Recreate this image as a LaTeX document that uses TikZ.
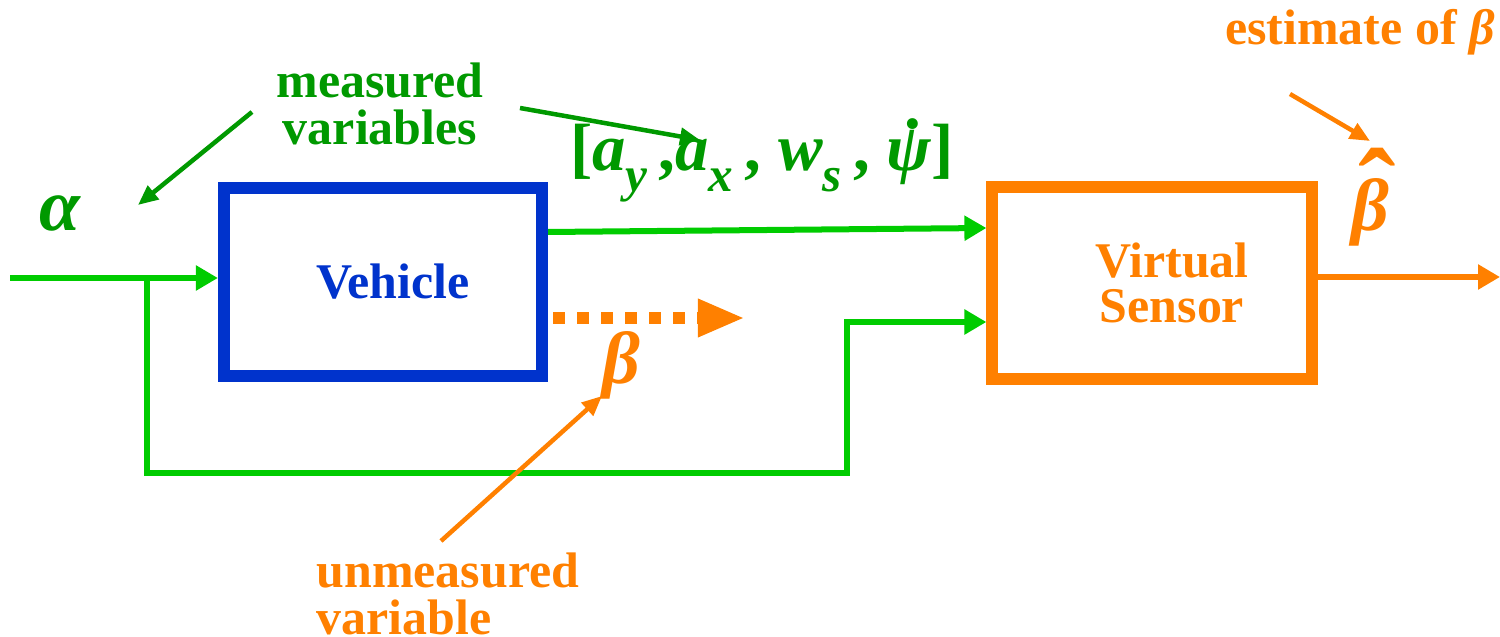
\documentclass[tikz,border=0pt]{standalone}
\usepackage{fontspec}
\setmainfont{Liberation Serif}
\usetikzlibrary{arrows.meta,positioning}

\definecolor{lineg}{RGB}{0,204,0}
\definecolor{textg}{RGB}{0,153,0}
\definecolor{vblue}{RGB}{0,51,204}
\definecolor{vorange}{RGB}{255,128,0}

\newcommand{\subv}[1]{\raisebox{-0.32em}{\fontsize{14}{14}\selectfont\textit{#1}}}
\newcommand{\dotpsi}{\ooalign{\textit{ψ}\cr\hidewidth\kern0.12em\raisebox{0.62em}{.}\hidewidth\cr}}
\newcommand{\hatbeta}{\ooalign{\textit{β}\cr\hidewidth\kern0.2em\raisebox{0.05em}{\fontsize{32}{32}\selectfont ˆ}\hidewidth\cr}}

\begin{document}
\begin{tikzpicture}[x=0.01cm, y=-0.01cm,
  block/.style={draw, line width=0.12cm, minimum width=3.18cm, minimum height=1.88cm, align=center, font=\fontsize{14.2}{12.6}\selectfont\bfseries},
  sig/.style={draw=lineg, line width=0.06cm, -{Triangle[length=0.22cm,width=0.24cm]}},
  obus/.style={draw=vorange, line width=0.06cm, -{Triangle[length=0.22cm,width=0.24cm]}},
  unmeas/.style={draw=vorange, line width=0.12cm, dash pattern=on 0.12cm off 0.12cm, -{Triangle[length=0.47cm,width=0.35cm]}},
  gpoint/.style={draw=textg, line width=0.045cm, -{Triangle[length=0.2cm,width=0.17cm]}},
  opoint/.style={draw=vorange, line width=0.045cm, -{Triangle[length=0.2cm,width=0.17cm]}},
  glabel/.style={text=textg, align=center, font=\fontsize{14.2}{13.4}\selectfont\bfseries},
  olabel/.style={text=vorange, align=center, font=\fontsize{14.2}{13.4}\selectfont\bfseries},
  greek/.style={font=\fontsize{21}{21}\selectfont\bfseries, inner sep=0pt}
]
\useasboundingbox (0,0) rectangle (1500,637);

% blocks
\node[block, draw=vblue, text=vblue] (veh) at (383,282) {\hspace*{0.2cm}Vehicle};
\node[block, draw=vorange, text=vorange, minimum width=3.19cm, minimum height=1.92cm] (vs) at (1152,283)
  {\hspace*{0.4cm}Virtual\\\hspace*{0.4cm}Sensor};

% signal paths
\coordinate (in) at (10,278);
\coordinate (br) at (147,278);
\coordinate (jog) at (847,473);
\coordinate (bend) at (745,318);
\coordinate (out) at (1500,277);
\draw[sig] (in) -- (in -| veh.west);
\draw[sig] (br) |- (jog) |- (vs.west |- 0,322);
\draw[sig] (veh.east |- 0,232) -- (vs.west |- 0,228);
\draw[unmeas] (veh.east |- bend) ++(5,0) -- (bend);
\draw[obus] (vs.east |- out) -- (out);

% labels
\node[greek, text=textg] (alpha) at (60,213) {\textit{α}};
\node[greek, text=vorange] (beta) at (621,365) {\textit{β}};
\node[greek, text=vorange] (betahat) at (1370,205) {\hatbeta};
\node[text=textg, font=\fontsize{19}{19}\selectfont\bfseries, inner sep=0pt] (mvec) at (762,163)
  {[\textit{a}\subv{y}\,,\textit{a}\subv{x}\,, \textit{w}\subv{s}\,, \dotpsi]};
\node[glabel] (meas) at (380,104) {measured\\variables};
\node[olabel] (est) at (1360,32) {estimate of \textit{β}};
\node[olabel, align=left] (unm) at (448,594) {unmeasured\\variable};

% pointers
\coordinate (m1) at (252,112);
\coordinate (m1t) at (138,205);
\coordinate (m2) at (520,108);
\coordinate (m2t) at (700,140);
\coordinate (e1) at (1290,94);
\coordinate (e1t) at (1370,141);
\coordinate (u1) at (441,541);
\coordinate (u1t) at (602,396);
\draw[gpoint] (m1) -- (m1t);
\draw[gpoint] (m2) -- (m2t);
\draw[opoint] (e1) -- (e1t);
\draw[opoint] (u1) -- (u1t);
\end{tikzpicture}
\end{document}
